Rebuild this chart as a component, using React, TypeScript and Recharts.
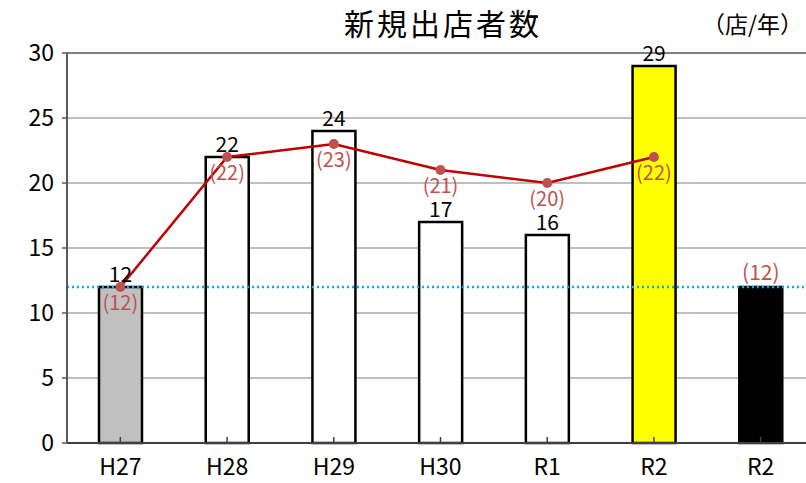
import React from "react";
import {
  ComposedChart,
  Bar,
  Line,
  XAxis,
  YAxis,
  CartesianGrid,
  ReferenceLine,
  LabelList,
  Cell,
} from "recharts";

const categories = ["H27", "H28", "H29", "H30", "R1", "R2", "R2"];
const shopCounts = [12, 22, 24, 17, 16, 29, 12];
const avgCounts: (number | null)[] = [12, 22, 23, 21, 20, 22, null];
const yTicks = [0, 5, 10, 15, 20, 25, 30];
const baseline = 12;

const data = categories.map((name, i) => ({
  name,
  count: shopCounts[i],
  avg: avgCounts[i],
}));

const FONT = "'Noto Sans CJK JP', 'Noto Sans', sans-serif";
const barFills = ["#c0c0c0", "#ffffff", "#ffffff", "#ffffff", "#ffffff", "#ffff00", "#000000"];

function XTick(props: any) {
  const { x, y, payload } = props;
  return (
    <g>
      <line x1={x} x2={x} y1={y} y2={y - 6} stroke="#404040" strokeWidth={1.5} />
      <text x={x} y={y + 32} textAnchor="middle" fontSize={23} fill="#000" fontFamily={FONT}>
        {payload.value}
      </text>
    </g>
  );
}

function YTick(props: any) {
  const { x, y, payload } = props;
  return (
    <text x={x - 6} y={y + 8} textAnchor="end" fontSize={23} fill="#000" fontFamily={FONT}>
      {payload.value}
    </text>
  );
}

function BarValue(props: any) {
  const { x, y, width, value, index } = props;
  const cx = x + width / 2;
  if (index === categories.length - 1) {
    return (
      <text x={cx} y={y - 7} textAnchor="middle" fontSize={21} fill="#c0504d" fontFamily={FONT}>
        ({value})
      </text>
    );
  }
  return (
    <text x={cx} y={y - 5} textAnchor="middle" fontSize={21} fill="#000" fontFamily={FONT}>
      {value}
    </text>
  );
}

function AvgValue(props: any) {
  const { x, y, value } = props;
  if (value == null) return null;
  return (
    <text x={x} y={y + 23} textAnchor="middle" fontSize={20} fill="#c0504d" fontFamily={FONT}>
      ({value})
    </text>
  );
}

export default function App() {
  return (
    <div
      style={{
        position: "absolute",
        left: 0,
        top: 0,
        width: 806,
        height: 483,
        overflow: "hidden",
        background: "#fff",
        fontFamily: FONT,
      }}
    >
      <div
        style={{
          position: "absolute",
          left: 344,
          top: 2,
          fontSize: 30,
          lineHeight: "40px",
          letterSpacing: 3,
          color: "#000",
          whiteSpace: "nowrap",
        }}
      >
        新規出店者数
      </div>
      <div
        style={{
          position: "absolute",
          left: 702,
          top: 6,
          fontSize: 23,
          lineHeight: "34px",
          color: "#000",
          whiteSpace: "nowrap",
        }}
      >
        （店/年）
      </div>
      <ComposedChart
        width={830}
        height={483}
        data={data}
        margin={{ top: 53, right: 16, left: 0, bottom: 0 }}
      >
        <CartesianGrid vertical={false} stroke="#bfbfbf" strokeWidth={2} />
        <XAxis
          dataKey="name"
          tickLine={false}
          tickSize={0}
          tickMargin={0}
          axisLine={{ stroke: "#404040", strokeWidth: 2 }}
          tick={<XTick />}
          height={40}
          interval={0}
        />
        <YAxis
          domain={[0, 30]}
          ticks={yTicks}
          width={67}
          axisLine={{ stroke: "#595959", strokeWidth: 2 }}
          tickLine={{ stroke: "#595959", strokeWidth: 1.5 }}
          tickSize={5}
          tick={<YTick />}
          interval={0}
        />
        <ReferenceLine y={30} stroke="#808080" strokeWidth={2} />
        <Bar dataKey="count" barSize={43} stroke="#000" strokeWidth={2.5} isAnimationActive={false}>
          {data.map((_, i) => (
            <Cell key={`c-${i}`} fill={barFills[i]} />
          ))}
          <LabelList dataKey="count" content={<BarValue />} />
        </Bar>
        <ReferenceLine
          y={baseline}
          stroke="#00b0f0"
          strokeWidth={2.5}
          strokeDasharray="2 3"
        />
        <Line
          dataKey="avg"
          stroke="#c00000"
          strokeWidth={2.5}
          dot={{ r: 5, fill: "#c0504d", stroke: "none" }}
          connectNulls={false}
          isAnimationActive={false}
        >
          <LabelList dataKey="avg" content={<AvgValue />} />
        </Line>
      </ComposedChart>
    </div>
  );
}
